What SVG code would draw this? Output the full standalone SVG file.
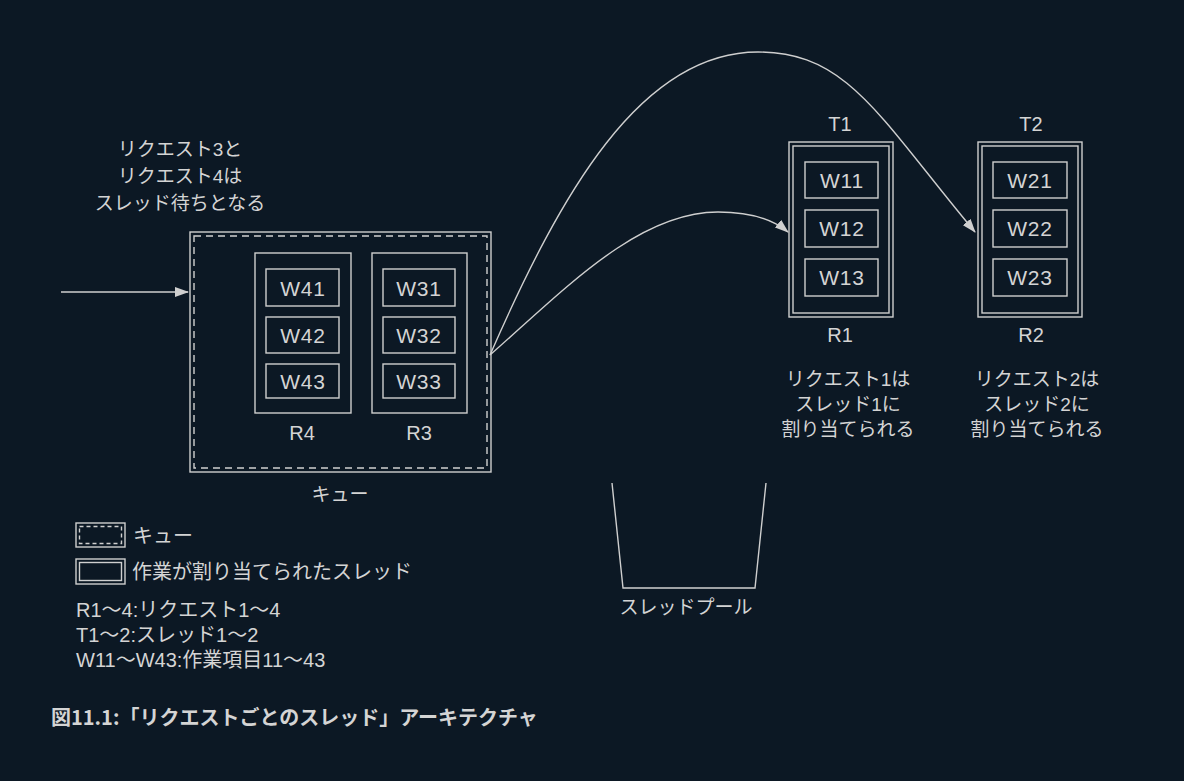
<svg xmlns="http://www.w3.org/2000/svg" width="1184" height="781" viewBox="0 0 1184 781">
<defs>
<style>
.bg{fill:#0c1824}
.ln{fill:none;stroke:#cfcfcf;stroke-width:1.4}
.dash{fill:none;stroke:#cfcfcf;stroke-width:1.4;stroke-dasharray:7 5}
.w{font-family:"Liberation Sans",Arial,sans-serif;font-size:21px;fill:#d4d4d4;text-anchor:middle;letter-spacing:0.8px}
.lab{font-family:"Liberation Sans",Arial,sans-serif;font-size:20px;fill:#d4d4d4;text-anchor:middle}
.jp{font-family:"Liberation Sans","Noto Sans CJK JP",sans-serif;font-size:19px;fill:#d4d4d4;text-anchor:middle}
.jl{font-family:"Liberation Sans","Noto Sans CJK JP",sans-serif;font-size:20px;fill:#d4d4d4}
.title{font-family:"Noto Sans CJK JP",sans-serif;font-size:20px;font-weight:bold;fill:#d4d4d4}
</style>
<marker id="arr" viewBox="0 0 14 10" refX="13" refY="5" markerWidth="14" markerHeight="10" markerUnits="userSpaceOnUse" orient="auto">
<path d="M0,0 L14,5 L0,10 Z" fill="#cfcfcf"/>
</marker>
</defs>
<rect class="bg" x="0" y="0" width="1184" height="781"/>

<g id="note-waiting">
<text class="jp" x="180" y="155.5">リクエスト3と</text>
<text class="jp" x="180" y="182.5">リクエスト4は</text>
<text class="jp" x="180" y="209.5">スレッド待ちとなる</text>
</g>

<g id="queue">
<rect class="ln" x="190" y="232" width="301" height="240"/>
<rect class="dash" x="194" y="236" width="293" height="232"/>
<text class="jp" x="340" y="501">キュー</text>
</g>

<g id="R4">
<rect class="ln" x="255" y="253" width="96" height="160"/>
<rect class="ln" x="266" y="269" width="73" height="37"/>
<text class="w" x="303" y="295.5">W41</text>
<rect class="ln" x="266" y="317" width="73" height="36"/>
<text class="w" x="303" y="342.5">W42</text>
<rect class="ln" x="266" y="364" width="73" height="34"/>
<text class="w" x="303" y="388.5">W43</text>
<text class="lab" x="302" y="439.5">R4</text>
</g>

<g id="R3">
<rect class="ln" x="372" y="253" width="95" height="160"/>
<rect class="ln" x="383" y="269" width="72" height="37"/>
<text class="w" x="419" y="295.5">W31</text>
<rect class="ln" x="383" y="317" width="72" height="36"/>
<text class="w" x="419" y="342.5">W32</text>
<rect class="ln" x="383" y="364" width="72" height="34"/>
<text class="w" x="419" y="388.5">W33</text>
<text class="lab" x="419" y="439.5">R3</text>
</g>

<g id="T1">
<text class="lab" x="840" y="130.5">T1</text>
<rect class="ln" x="789" y="142" width="104" height="175"/>
<rect class="ln" x="793" y="146" width="96" height="167"/>
<rect class="ln" x="805" y="162" width="73" height="36"/>
<text class="w" x="842" y="187.5">W11</text>
<rect class="ln" x="805" y="210" width="73" height="37"/>
<text class="w" x="842" y="236">W12</text>
<rect class="ln" x="805" y="259" width="73" height="37"/>
<text class="w" x="842" y="285">W13</text>
<text class="lab" x="840" y="342">R1</text>
<text class="jp" x="848" y="385.5">リクエスト1は</text>
<text class="jp" x="848" y="410.5">スレッド1に</text>
<text class="jp" x="848" y="435.5">割り当てられる</text>
</g>

<g id="T2">
<text class="lab" x="1031" y="130.5">T2</text>
<rect class="ln" x="978" y="142" width="104" height="175"/>
<rect class="ln" x="982" y="146" width="96" height="167"/>
<rect class="ln" x="993" y="162" width="74" height="36"/>
<text class="w" x="1030" y="187.5">W21</text>
<rect class="ln" x="993" y="210" width="74" height="37"/>
<text class="w" x="1030" y="236">W22</text>
<rect class="ln" x="993" y="259" width="74" height="37"/>
<text class="w" x="1030" y="285">W23</text>
<text class="lab" x="1031" y="342">R2</text>
<text class="jp" x="1037" y="385.5">リクエスト2は</text>
<text class="jp" x="1037" y="410.5">スレッド2に</text>
<text class="jp" x="1037" y="435.5">割り当てられる</text>
</g>

<g id="pool">
<path class="ln" d="M612,483 L623,588 L755,588 L766,483"/>
<text class="jp" x="686" y="614">スレッドプール</text>
</g>

<g id="connectors">
<line class="ln" x1="61" y1="292" x2="188" y2="292" marker-end="url(#arr)"/>
<path class="ln" d="M490,355 C565,289 638,212 718,212 C745,212 770,217 788,232" marker-end="url(#arr)"/>
<path class="ln" d="M490,355 C560,195 640,52 758,52 C848,52 879,117 975,232" marker-end="url(#arr)"/>
</g>

<g id="legend">
<rect class="ln" x="76" y="523" width="49" height="24"/>
<rect class="dash" x="79.5" y="526.5" width="42" height="17" style="stroke-dasharray:4 3"/>
<text class="jl" x="133" y="542.5">キュー</text>
<rect class="ln" x="76" y="559" width="49" height="25"/>
<rect class="ln" x="79.5" y="562.5" width="42" height="18"/>
<text class="jl" x="132" y="579">作業が割り当てられたスレッド</text>
<text class="jl" x="76" y="616.5">R1～4:リクエスト1～4</text>
<text class="jl" x="76" y="641.5">T1～2:スレッド1～2</text>
<text class="jl" x="76" y="666.5">W11～W43:作業項目11～43</text>
</g>

<g id="caption">
<text class="title" x="51" y="725">図11.1:「リクエストごとのスレッド」アーキテクチャ</text>
</g>
</svg>
